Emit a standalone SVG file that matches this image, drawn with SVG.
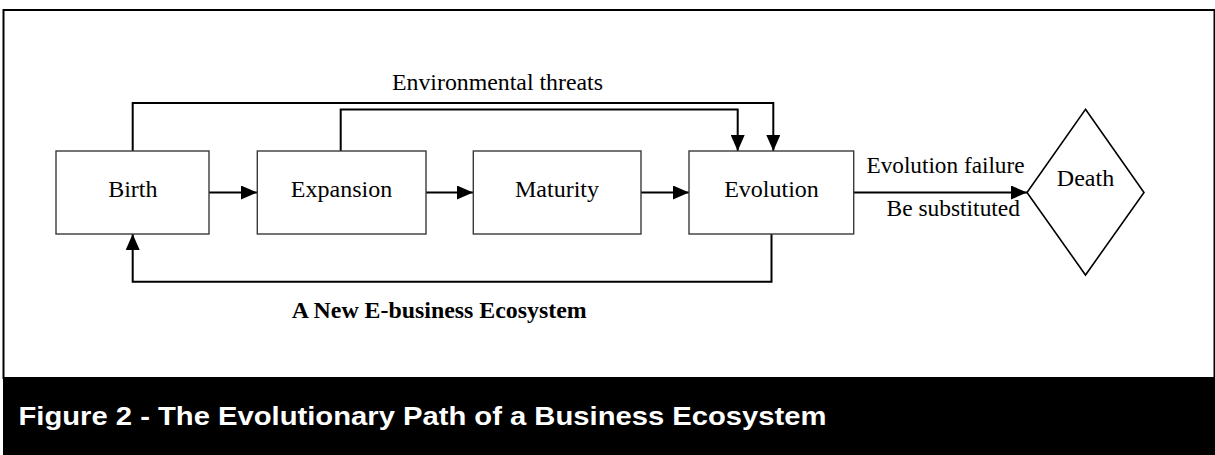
<svg xmlns="http://www.w3.org/2000/svg" width="1215" height="455" viewBox="0 0 1215 455">
<defs>
<style>
.box{fill:#fff;stroke:#3a3a3a;stroke-width:1.4}
.lbl{font-family:"Liberation Serif","Times New Roman",serif;font-size:24px;fill:#000}
.con{fill:none;stroke:#000;stroke-width:2}
.bold{font-family:"Liberation Serif","Times New Roman",serif;font-size:24px;font-weight:bold;fill:#000}
.cap{font-family:"Liberation Sans",Arial,sans-serif;font-size:25px;font-weight:bold;fill:#fff}
</style>
<marker id="ah" viewBox="0 0 16 14" refX="16" refY="7" markerWidth="16" markerHeight="14" markerUnits="userSpaceOnUse" orient="auto">
<path d="M0,0 L16,7 L0,14 Z" fill="#000"/>
</marker>
</defs>
<rect x="0" y="0" width="1215" height="455" fill="#fff"/>
<rect x="3.5" y="10" width="1211" height="368" fill="#fff" stroke="#000" stroke-width="2"/>
<rect x="3" y="378" width="1212" height="77" fill="#000"/>
<g id="connectors">
<line class="con" x1="209" y1="192.5" x2="257" y2="192.5" marker-end="url(#ah)"/>
<line class="con" x1="426" y1="192.5" x2="473" y2="192.5" marker-end="url(#ah)"/>
<line class="con" x1="641" y1="192.5" x2="689" y2="192.5" marker-end="url(#ah)"/>
<line class="con" x1="854" y1="192.5" x2="1027" y2="192.5" marker-end="url(#ah)"/>
<polyline class="con" points="132.7,151 132.7,103 773.3,103 773.3,151" marker-end="url(#ah)"/>
<polyline class="con" points="340.7,151 340.7,109.5 737.7,109.5 737.7,151" marker-end="url(#ah)"/>
<polyline class="con" points="771.5,234 771.5,281.7 132.7,281.7 132.7,234" marker-end="url(#ah)"/>
<text class="lbl" x="392" y="90" textLength="211" lengthAdjust="spacingAndGlyphs">Environmental threats</text>
<text class="lbl" x="866.5" y="173.3" textLength="158" lengthAdjust="spacingAndGlyphs">Evolution failure</text>
<text class="lbl" x="886.5" y="215.7" textLength="133.5" lengthAdjust="spacingAndGlyphs">Be substituted</text>
</g>
<g id="birth">
<rect class="box" x="56" y="151" width="153" height="83"/>
<text class="lbl" x="132.8" y="197.3" text-anchor="middle">Birth</text>
</g>
<g id="expansion">
<rect class="box" x="257.3" y="151" width="168.7" height="83"/>
<text class="lbl" x="341.5" y="197.3" text-anchor="middle">Expansion</text>
</g>
<g id="maturity">
<rect class="box" x="473.3" y="151" width="167.7" height="83"/>
<text class="lbl" x="557" y="197.3" text-anchor="middle">Maturity</text>
</g>
<g id="evolution">
<rect class="box" x="689" y="151" width="164.7" height="83"/>
<text class="lbl" x="771.5" y="197.3" text-anchor="middle">Evolution</text>
</g>
<g id="death">
<polygon points="1085.5,109.3 1144,192.5 1085.5,275 1027,192.5" fill="#fff" stroke="#000" stroke-width="1.6"/>
<text class="lbl" x="1085.5" y="185.7" text-anchor="middle">Death</text>
</g>
<text class="bold" x="291.7" y="318.3" textLength="295" lengthAdjust="spacingAndGlyphs">A New E-business Ecosystem</text>
<text class="cap" x="18.5" y="424.5" textLength="808" lengthAdjust="spacingAndGlyphs">Figure 2 - The Evolutionary Path of a Business Ecosystem</text>
</svg>
